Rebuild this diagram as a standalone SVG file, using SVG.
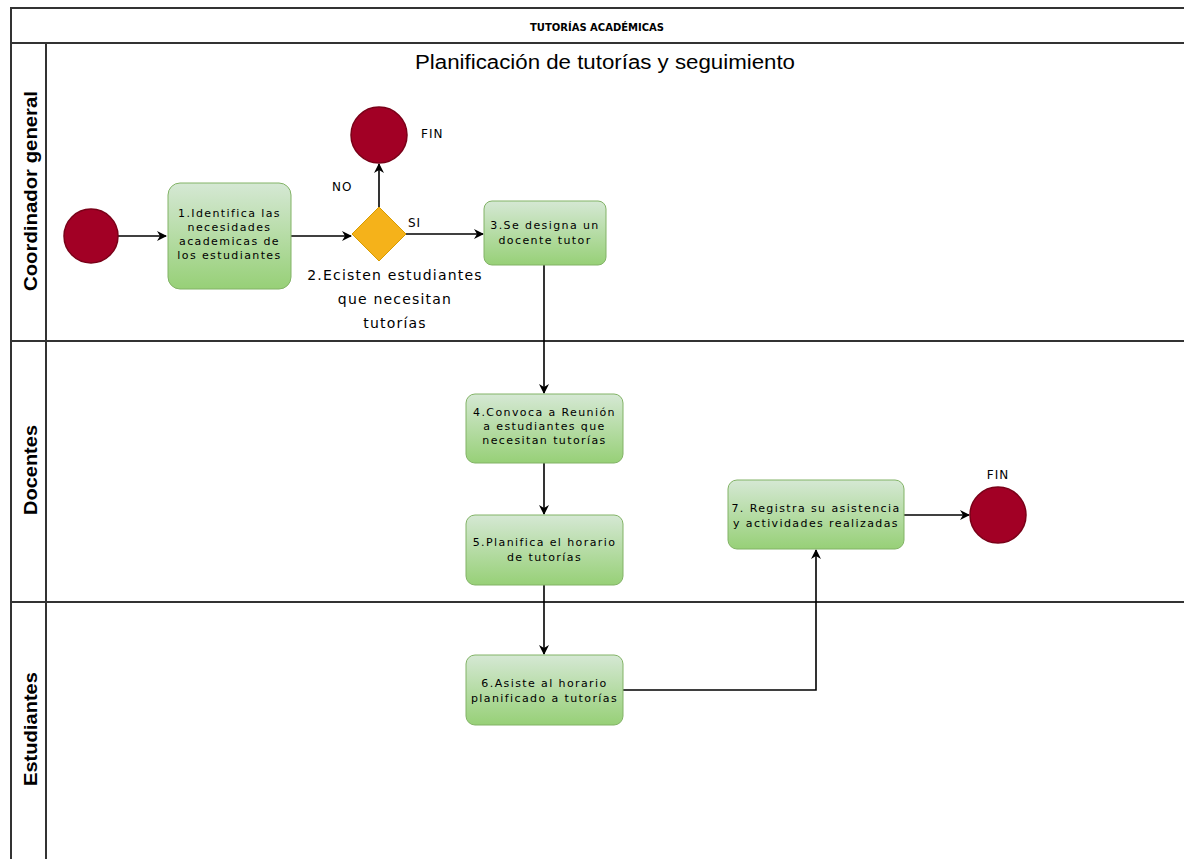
<svg xmlns="http://www.w3.org/2000/svg" width="1184" height="859" viewBox="0 0 1184 859">
<defs>
<linearGradient id="g" x1="0" y1="0" x2="0" y2="1">
<stop offset="0" stop-color="#d5e8d4"/>
<stop offset="1" stop-color="#97d077"/>
</linearGradient>
<marker id="a" viewBox="0 0 10 10" refX="9" refY="5" markerWidth="10" markerHeight="10" orient="auto" markerUnits="userSpaceOnUse">
<path d="M0,0 L10,5 L0,10 L3,5 Z" fill="#000"/>
</marker>
<style>
.lane{fill:none;stroke:#333;stroke-width:2}
.box{fill:url(#g);stroke:#82b366;stroke-width:1}
.ev{fill:#a20025;stroke:#7a0018;stroke-width:1.5}
.t{font-family:"DejaVu Sans",sans-serif;font-size:11px;letter-spacing:1.4px;fill:#000;text-anchor:middle}
.lbl{font-family:"DejaVu Sans",sans-serif;font-size:12px;letter-spacing:1px;fill:#000}
.dl{font-family:"DejaVu Sans",sans-serif;font-size:14px;letter-spacing:1.2px;fill:#000;text-anchor:middle}
.ln{font-family:"Liberation Sans",sans-serif;font-weight:bold;font-size:19px;fill:#000;text-anchor:middle}
.c{fill:none;stroke:#000;stroke-width:1.6}
</style>
</defs>
<rect x="0" y="0" width="1184" height="859" fill="#fff"/>
<g id="pool">
<path class="lane" d="M1184,8 H11 V859"/>
<path class="lane" d="M11,43 H1184"/>
<path class="lane" d="M46,43 V859"/>
<path class="lane" d="M11,341 H1184"/>
<path class="lane" d="M11,602 H1184"/>
<text x="597" y="31" font-family="DejaVu Sans,sans-serif" font-weight="bold" font-size="10" text-anchor="middle">TUTORÍAS ACADÉMICAS</text>
<text x="605" y="69" font-family="Liberation Sans,sans-serif" font-size="20" text-anchor="middle" textLength="380" lengthAdjust="spacingAndGlyphs">Planificación de tutorías y seguimiento</text>
<text class="ln" transform="translate(37,191) rotate(-90)" textLength="200" lengthAdjust="spacingAndGlyphs">Coordinador general</text>
<text class="ln" transform="translate(37,470) rotate(-90)" textLength="90" lengthAdjust="spacingAndGlyphs">Docentes</text>
<text class="ln" transform="translate(37,729) rotate(-90)" textLength="114" lengthAdjust="spacingAndGlyphs">Estudiantes</text>
</g>
<g id="connectors">
<path class="c" d="M118,236 H166" marker-end="url(#a)"/>
<path class="c" d="M291,236 H351" marker-end="url(#a)"/>
<path class="c" d="M379,207 V164" marker-end="url(#a)"/>
<path class="c" d="M406,234 H483" marker-end="url(#a)"/>
<path class="c" d="M544,265 V393" marker-end="url(#a)"/>
<path class="c" d="M544,463 V514" marker-end="url(#a)"/>
<path class="c" d="M544,585 V654" marker-end="url(#a)"/>
<path class="c" d="M623,690 H816 V550" marker-end="url(#a)"/>
<path class="c" d="M904,515 H969" marker-end="url(#a)"/>
<text class="lbl" x="332" y="191">NO</text>
<text class="lbl" x="408" y="227">SI</text>
</g>
<g id="start"><circle class="ev" cx="91" cy="236" r="27"/></g>
<g id="task1"><rect class="box" x="168" y="183" width="123" height="106" rx="12"/>
<text class="t" x="229.5" y="217" letter-spacing="0.6">1.Identifica las</text><text class="t" x="229.5" y="231" letter-spacing="0.6">necesidades</text><text class="t" x="229.5" y="245" letter-spacing="0.6">academicas de</text><text class="t" x="229.5" y="259" letter-spacing="0.2">los estudiantes</text></g>
<g id="gateway"><polygon points="379,207 406,234 379,261 352,234" fill="#f5b21a" stroke="#d79b00" stroke-width="1"/>
<text class="dl" x="395" y="280">2.Ecisten estudiantes</text>
<text class="dl" x="395" y="304">que necesitan</text>
<text class="dl" x="395" y="328">tutorías</text></g>
<g id="fin1"><circle class="ev" cx="379" cy="135" r="28"/><text class="lbl" x="421" y="138">FIN</text></g>
<g id="task3"><rect class="box" x="484" y="201" width="122" height="64" rx="8"/>
<text class="t" x="545" y="229" letter-spacing="0.8">3.Se designa un</text><text class="t" x="545" y="244" letter-spacing="0.8">docente tutor</text></g>
<g id="task4"><rect class="box" x="466" y="394" width="157" height="69" rx="9"/>
<text class="t" x="544.5" y="416">4.Convoca a Reunión</text><text class="t" x="544.5" y="430">a estudiantes que</text><text class="t" x="544.5" y="444">necesitan tutorías</text></g>
<g id="task5"><rect class="box" x="466" y="515" width="157" height="70" rx="9"/>
<text class="t" x="544.5" y="546">5.Planifica el horario</text><text class="t" x="544.5" y="561">de tutorías</text></g>
<g id="task6"><rect class="box" x="466" y="655" width="157" height="70" rx="9"/>
<text class="t" x="544.5" y="687">6.Asiste al horario</text><text class="t" x="544.5" y="702" letter-spacing="1">planificado a tutorías</text></g>
<g id="task7"><rect class="box" x="728" y="480" width="176" height="69" rx="9"/>
<text class="t" x="816" y="512">7. Registra su asistencia</text><text class="t" x="816" y="527">y actividades realizadas</text></g>
<g id="fin2"><circle class="ev" cx="998" cy="515" r="28"/><text class="lbl" x="998" y="479" text-anchor="middle">FIN</text></g>
</svg>
